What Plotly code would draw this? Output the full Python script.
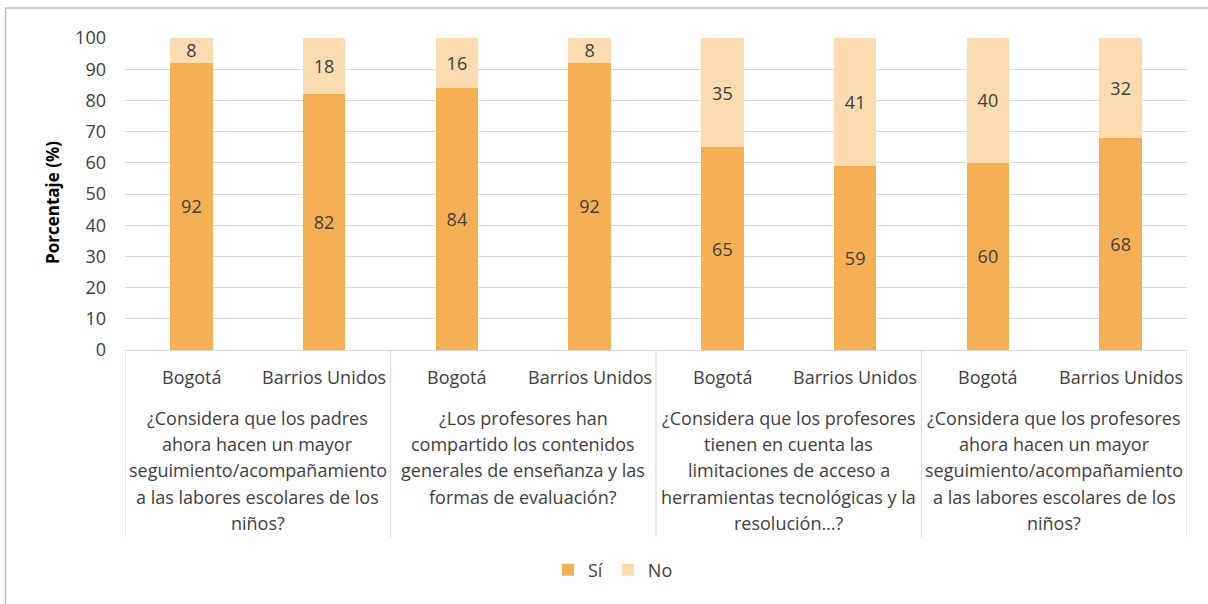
import plotly.graph_objects as go

# Survey results: share of "Sí" / "No" answers per question and locality
preguntas = [
    "¿Considera que los padres<br>ahora hacen un mayor<br>seguimiento/acompañamiento<br>a las labores escolares de los<br>niños?",
    "¿Los profesores han<br>compartido los contenidos<br>generales de enseñanza y las<br>formas de evaluación?",
    "¿Considera que los profesores<br>tienen en cuenta las<br>limitaciones de acceso a<br>herramientas tecnológicas y la<br>resolución…?",
    "¿Considera que los profesores<br>ahora hacen un mayor<br>seguimiento/acompañamiento<br>a las labores escolares de los<br>niños?",
]
zonas = ["Bogotá", "Barrios Unidos"]
si = [92, 82, 84, 92, 65, 59, 60, 68]
no = [8, 18, 16, 8, 35, 41, 40, 32]
yticks = [0, 10, 20, 30, 40, 50, 60, 70, 80, 90, 100]

FONT = "Open Sans"
FS = 18
TXT = "#404040"
GRID = "#d9d9d9"
C_SI = "#F6B054"
C_NO = "#FBDCB1"

pos = list(range(len(si)))

fig = go.Figure()
for vals, name, color in [(si, "Sí", C_SI), (no, "No", C_NO)]:
    fig.add_trace(go.Bar(
        x=pos, y=vals, name=name, marker=dict(color=color, line=dict(width=0)),
        text=[str(v) for v in vals], textposition="inside",
        insidetextanchor="middle", textangle=0, constraintext="none",
        textfont=dict(family=FONT, size=FS, color=TXT), width=0.32,
    ))

# Plot-area geometry (px) used to express label offsets in paper units
PL, PR, PT, PB = 125, 21, 38, 254
H = 604 - PT - PB
W = 1208 - PL - PR


def py(px):
    return (604 - PB - px) / H


annotations = []
# Locality labels under each bar
for i in pos:
    annotations.append(dict(
        x=i, y=py(377), xref="x", yref="paper", text=zonas[i % 2],
        showarrow=False, yanchor="middle",
        font=dict(family=FONT, size=FS, color=TXT),
    ))
# Question labels, one centred block per pair of bars
for g, q in enumerate(preguntas):
    for k, line in enumerate(q.split("<br>")):
        annotations.append(dict(
            x=2 * g + 0.5, y=py(418 + 26.2 * k), xref="x", yref="paper",
            text=line, showarrow=False, yanchor="middle",
            font=dict(family=FONT, size=FS, color=TXT),
        ))
# Y axis title
annotations.append(dict(
    x=(52 - PL) / W, y=py(203), xref="paper", yref="paper",
    xanchor="center", yanchor="middle",
    text="<b>Porcentaje (%)</b>", textangle=-90, showarrow=False,
    font=dict(family=FONT, size=17, color="#000000"),
))

shapes = []
# Group dividers running down through the category labels
for xb in [-0.5, 1.5, 3.5, 5.5, 7.5]:
    shapes.append(dict(
        type="line", xref="x", yref="paper", x0=xb, x1=xb, y0=0, y1=py(537),
        line=dict(color=GRID, width=1.2), layer="below",
    ))
# Chart frame
shapes.append(dict(
    type="rect", xref="paper", yref="paper",
    x0=(5.5 - PL) / W, x1=(1212 - PL) / W, y0=py(612), y1=py(8),
    line=dict(color="#bfbfbf", width=1.5), fillcolor="rgba(0,0,0,0)",
))

fig.update_layout(
    barmode="stack",
    width=1208, height=604,
    margin=dict(l=PL, r=PR, t=PT, b=PB, pad=0),
    paper_bgcolor="white", plot_bgcolor="white",
    font=dict(family=FONT, size=FS, color=TXT),
    showlegend=True,
    legend=dict(
        orientation="h", x=(613 - PL) / W, xanchor="center",
        y=py(570), yanchor="middle",
        font=dict(family=FONT, size=FS, color=TXT),
        itemwidth=30, traceorder="normal",
    ),
    annotations=annotations,
    shapes=shapes,
)
fig.update_xaxes(
    range=[-0.5, 7.5], showticklabels=False, showgrid=False, zeroline=False,
    showline=True, linecolor=GRID, linewidth=1.2, ticks="",
)
fig.update_yaxes(
    range=[0, 100], tickvals=yticks, showgrid=True, gridcolor=GRID, gridwidth=1.2,
    zeroline=False, showline=False, ticks="", ticklabelstandoff=18,
    tickfont=dict(family=FONT, size=FS, color=TXT),
)

fig.write_html("out.html")
